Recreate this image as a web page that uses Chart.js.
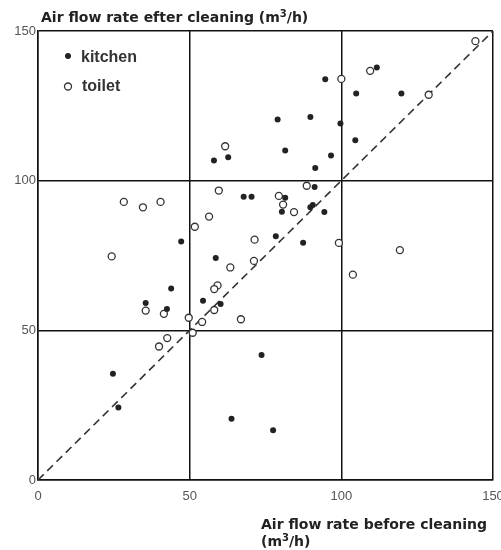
<!DOCTYPE html>
<html>
<head>
<meta charset="utf-8">
<script src="https://cdn.jsdelivr.net/npm/chart.js@4.4.0/dist/chart.umd.min.js"></script>
<style>
  html, body { margin: 0; padding: 0; background: #fff; }
  #wrap { width: 501px; height: 550px; position: relative; }
</style>
</head>
<body>
<div id="wrap"><canvas id="grafico"></canvas></div>
<script>
// Dados (m3/h)
const kitchenBefore = [94.7, 111.7, 104.9, 119.8, 79.0, 89.8, 99.7, 104.6, 58.0, 62.7, 81.5, 96.6,
  91.4, 91.2, 67.8, 70.4, 81.5, 80.4, 89.8, 90.6, 94.4, 47.2, 78.4, 87.4, 58.6, 54.4, 60.2,
  43.9, 35.5, 42.5, 73.7, 63.8, 77.5, 24.7, 26.5];
const kitchenAfter = [133.9, 137.8, 129.1, 129.1, 120.4, 121.3, 119.1, 113.5, 106.7, 107.8, 110.1, 108.4,
  104.2, 97.9, 94.6, 94.6, 94.3, 89.6, 91.1, 91.9, 89.5, 79.7, 81.4, 79.3, 74.2, 59.9, 58.8,
  64.0, 59.1, 57.1, 41.8, 20.5, 16.6, 35.5, 24.2];

const toiletBefore = [144.2, 109.5, 100.0, 128.8, 61.7, 99.2, 119.3, 103.8, 88.6, 59.6, 79.4, 80.8,
  84.4, 56.4, 51.7, 71.4, 71.2, 63.4, 59.2, 58.1, 58.1, 66.9, 49.7, 54.1, 51.0, 28.3, 34.6,
  40.4, 24.3, 35.5, 41.5, 42.6, 39.9];
const toiletAfter = [146.6, 136.7, 134.0, 128.7, 111.5, 79.2, 76.8, 68.6, 98.3, 96.7, 94.9, 92.0,
  89.5, 88.0, 84.6, 80.3, 73.2, 71.0, 65.0, 63.8, 56.8, 53.7, 54.2, 52.8, 49.2, 92.9, 91.1,
  92.9, 74.7, 56.6, 55.5, 47.4, 44.6];

const axisTicks = [0, 50, 100, 150];
const diagonal = [0, 150];

function pares(xs, ys) {
    return xs.map((x, i) => ({ x: x, y: ys[i] }));
}

const fonteTitulo = 'bold 14px "DejaVu Sans", sans-serif';
const fonteExpoente = 'bold 10px "DejaVu Sans", sans-serif';

// Títulos e legenda desenhados no canvas
const textosPlugin = {
    id: 'textos',
    afterDraw(chart) {
        const ctx = chart.ctx;
        ctx.save();
        ctx.fillStyle = '#222';
        ctx.textBaseline = 'alphabetic';

        function tituloComExpoente(antes, depois, x, y) {
            ctx.font = fonteTitulo;
            ctx.fillText(antes, x, y);
            let w = ctx.measureText(antes).width;
            ctx.font = fonteExpoente;
            ctx.fillText('3', x + w, y - 5);
            w += ctx.measureText('3').width;
            ctx.font = fonteTitulo;
            ctx.fillText(depois, x + w, y);
        }

        tituloComExpoente('Air flow rate efter cleaning (m', '/h)', 41, 22);
        ctx.font = fonteTitulo;
        ctx.fillText('Air flow rate before cleaning', 261, 529);
        tituloComExpoente('(m', '/h)', 261, 546);

        // Legenda
        ctx.fillStyle = '#222';
        ctx.beginPath();
        ctx.arc(68, 56, 3, 0, Math.PI * 2);
        ctx.fill();
        ctx.strokeStyle = '#333';
        ctx.lineWidth = 1.3;
        ctx.beginPath();
        ctx.arc(68, 86.5, 3.5, 0, Math.PI * 2);
        ctx.stroke();
        ctx.fillStyle = '#333';
        ctx.font = 'bold 16px "Liberation Sans", Arial, sans-serif';
        ctx.fillText('kitchen', 81, 61.5);
        ctx.fillText('toilet', 82, 91);
        ctx.restore();
    }
};

const eixoBase = {
    type: 'linear',
    min: 0,
    max: 150,
    afterBuildTicks: (scale) => { scale.ticks = axisTicks.map(v => ({ value: v })); },
    grid: { color: '#111', lineWidth: 1.5, drawTicks: false },
    border: { display: true, color: '#111', width: 1.5 },
    ticks: {
        color: '#555',
        font: { family: '"Liberation Sans", Arial, sans-serif', size: 13 }
    }
};

new Chart(document.getElementById('grafico').getContext('2d'), {
    type: 'scatter',
    data: {
        datasets: [
            {
                label: 'kitchen',
                data: pares(kitchenBefore, kitchenAfter),
                pointRadius: 3,
                pointBackgroundColor: '#222',
                pointBorderColor: '#222',
                pointBorderWidth: 0,
                order: 1
            },
            {
                label: 'toilet',
                data: pares(toiletBefore, toiletAfter),
                pointRadius: 3.5,
                pointBackgroundColor: '#fff',
                pointBorderColor: '#333',
                pointBorderWidth: 1.3,
                order: 2
            },
            {
                type: 'line',
                label: 'y = x',
                data: pares(diagonal, diagonal),
                borderColor: '#333',
                borderWidth: 1.6,
                borderDash: [8, 5],
                pointRadius: 0,
                fill: false,
                order: 3
            }
        ]
    },
    options: {
        responsive: true,
        maintainAspectRatio: false,
        animation: false,
        layout: { padding: { left: 0, top: 31, right: 8, bottom: 50 } },
        plugins: {
            legend: { display: false },
            tooltip: { enabled: false }
        },
        scales: {
            x: Object.assign({}, eixoBase, {
                position: 'bottom',
                ticks: Object.assign({}, eixoBase.ticks, { padding: 9, maxRotation: 0 }),
                afterFit: (scale) => {
                    scale.height = 20;
                    scale.paddingLeft = 0;
                    scale.paddingRight = 0;
                }
            }),
            y: Object.assign({}, eixoBase, {
                position: 'left',
                ticks: Object.assign({}, eixoBase.ticks, { padding: 2 }),
                afterFit: (scale) => {
                    scale.width = 38;
                    scale.paddingTop = 0;
                    scale.paddingBottom = 0;
                }
            })
        }
    },
    plugins: [textosPlugin]
});
</script>
</body>
</html>
